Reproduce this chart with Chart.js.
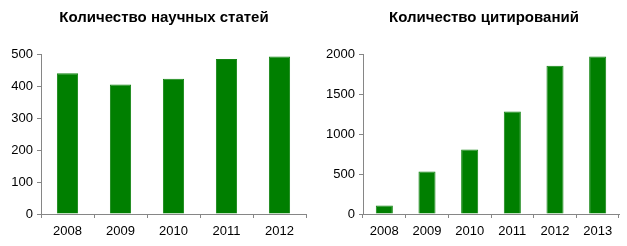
<!DOCTYPE html>
<html>
<head>
<meta charset="utf-8">
<script src="https://cdn.jsdelivr.net/npm/chart.js@4"></script>
<style>
  body { margin: 0; background: #fff; }
  .box { position: absolute; top: 0; height: 246px; }
</style>
</head>
<body>
<div class="box" style="left:0; width:313px"><canvas id="papers"></canvas></div>
<div class="box" style="left:313px; width:314px"><canvas id="cites"></canvas></div>
<script>
// Data
const paperYears = ['2008', '2009', '2010', '2011', '2012'];
const paperCounts = [440, 405, 423, 484, 492];
const citeYears = ['2008', '2009', '2010', '2011', '2012', '2013'];
const citeCounts = [105, 532, 805, 1280, 1852, 1970];

const FONT = 'Arial, "Liberation Sans", sans-serif';

// simple title drawn at a fixed center x (reference titles are not centered on the plot)
const fixedTitle = {
  id: 'fixedTitle',
  afterDraw(chart, args, opts) {
    const ctx = chart.ctx;
    ctx.save();
    ctx.font = 'bold 15px ' + FONT;
    ctx.fillStyle = '#000';
    ctx.textAlign = 'center';
    ctx.textBaseline = 'middle';
    ctx.fillText(opts.text, opts.x, opts.y);
    ctx.restore();
  }
};

function makeChart(id, labels, values, yMax, yStep, title, titleX, axisX, rightPad) {
  return new Chart(document.getElementById(id), {
    type: 'bar',
    data: {
      labels: labels,
      datasets: [{
        data: values,
        backgroundColor: '#007f00',
        borderColor: '#138513',
        borderWidth: 1,
        barPercentage: 0.4,
        categoryPercentage: 1
      }]
    },
    options: {
      responsive: true,
      maintainAspectRatio: false,
      animation: false,
      layout: { padding: { top: 54, right: rightPad, bottom: 0, left: 0 } },
      plugins: {
        legend: { display: false },
        tooltip: { enabled: false },
        fixedTitle: { text: title, x: titleX, y: 18 }
      },
      scales: {
        x: {
          afterFit: s => { s.height = 32; },
          border: { color: '#868686', width: 1 },
          grid: { offset: true, drawOnChartArea: false, drawTicks: true, tickLength: 4, color: '#868686' },
          ticks: { color: '#000', font: { family: FONT, size: 13 }, padding: 6 }
        },
        y: {
          min: 0,
          max: yMax,
          afterFit: s => { s.width = axisX; },
          border: { color: '#868686', width: 1 },
          grid: { drawOnChartArea: false, drawTicks: true, tickLength: 4, color: '#868686' },
          ticks: {
            stepSize: yStep,
            color: '#000',
            font: { family: FONT, size: 13 },
            padding: 4,
            callback: v => String(v)
          }
        }
      }
    },
    plugins: [fixedTitle]
  });
}

makeChart('papers', paperYears, paperCounts, 500, 100, 'Количество научных статей', 164, 41, 7);
makeChart('cites', citeYears, citeCounts, 2000, 500, 'Количество цитирований', 171, 50, 8);
</script>
</body>
</html>
